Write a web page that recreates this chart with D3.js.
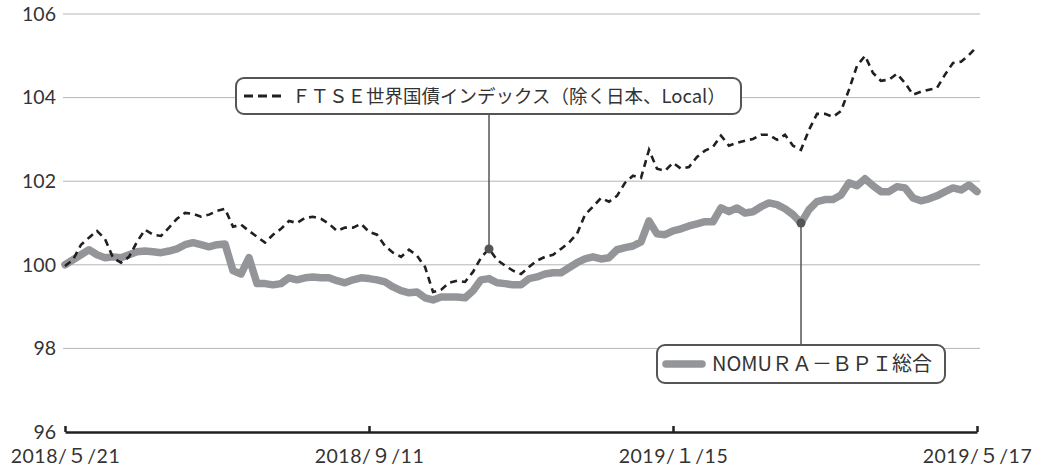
<!DOCTYPE html>
<html>
<head>
<meta charset="utf-8">
<script src="https://cdn.jsdelivr.net/npm/d3@7"></script>
<style>
  body { margin: 0; background: #fff; }
  svg { display: block; font-family: "Noto Sans CJK JP", "Noto Sans", sans-serif; }
</style>
</head>
<body>
<div id="chart"></div>
<script>
// chart size
const width = 1037;
const height = 470;
const margin = {left: 65, right: 60, top: 14, bottom: 38};

// tick labels on the x axis (evenly spaced over the samples)
const xTickLabels = ["2018/５/21", "2018/９/11", "2019/１/15", "2019/５/17"];
const yTicks = [96, 98, 100, 102, 104, 106];

// FTSE world government bond index (ex Japan, local) - dashed line
const ftse = [
  99.97, 100.12, 100.48, 100.65, 100.81, 100.62, 100.17, 100.05, 100.19, 100.55,
  100.84, 100.72, 100.69, 100.89, 101.10, 101.24, 101.22, 101.15, 101.20, 101.29,
  101.34, 100.91, 100.96, 100.81, 100.67, 100.53, 100.72, 100.86, 101.05, 101.00,
  101.12, 101.15, 101.10, 100.98, 100.81, 100.89, 100.89, 100.98, 100.79, 100.72,
  100.45, 100.29, 100.19, 100.36, 100.22, 99.95, 99.35, 99.40, 99.57, 99.62,
  99.59, 99.83, 100.17, 100.38, 100.12, 99.98, 99.86, 99.78, 99.95, 100.10,
  100.19, 100.24, 100.38, 100.53, 100.74, 101.20, 101.39, 101.60, 101.51, 101.65,
  101.96, 102.13, 102.08, 102.75, 102.30, 102.25, 102.44, 102.30, 102.34, 102.58,
  102.73, 102.82, 103.09, 102.85, 102.92, 102.97, 103.01, 103.11, 103.11, 102.99,
  103.11, 102.85, 102.75, 103.23, 103.61, 103.61, 103.54, 103.68, 104.19, 104.76,
  105.00, 104.59, 104.40, 104.43, 104.57, 104.35, 104.07, 104.14, 104.19, 104.23,
  104.55, 104.83, 104.86, 105.02, 105.22
];

// NOMURA-BPI total - thick grey line
const nomura = [
  100.00, 100.12, 100.24, 100.36, 100.24, 100.17, 100.19, 100.17, 100.24, 100.31,
  100.33, 100.31, 100.29, 100.33, 100.38, 100.48, 100.53, 100.48, 100.43, 100.48,
  100.50, 99.86, 99.78, 100.17, 99.55, 99.55, 99.52, 99.55, 99.69, 99.64,
  99.69, 99.71, 99.69, 99.69, 99.62, 99.57, 99.64, 99.69, 99.67, 99.64,
  99.59, 99.47, 99.38, 99.33, 99.35, 99.21, 99.16, 99.23, 99.23, 99.23,
  99.21, 99.38, 99.64, 99.67, 99.57, 99.55, 99.52, 99.52, 99.67, 99.71,
  99.78, 99.81, 99.81, 99.93, 100.05, 100.14, 100.19, 100.14, 100.17, 100.36,
  100.41, 100.45, 100.55, 101.05, 100.74, 100.72, 100.81, 100.86, 100.93, 100.98,
  101.03, 101.03, 101.36, 101.27, 101.36, 101.24, 101.27, 101.39, 101.48, 101.44,
  101.34, 101.20, 101.00, 101.32, 101.51, 101.56, 101.56, 101.67, 101.96, 101.89,
  102.06, 101.89, 101.75, 101.75, 101.87, 101.84, 101.60, 101.53, 101.58, 101.65,
  101.75, 101.84, 101.79, 101.91, 101.75
];

// where the callouts point
const ftseMarkIdx = 53;
const nomuraMarkIdx = 92;

const n = ftse.length;
const tickIdx = xTickLabels.map((d, i) => Math.round(i * (n - 1) / (xTickLabels.length - 1)));

const svg = d3.select("#chart")
  .append("svg")
  .attr("width", width)
  .attr("height", height);

const x = d3.scaleLinear()
  .domain([0, n - 1])
  .range([margin.left, width - margin.right]);

const y = d3.scaleLinear()
  .domain([96, 106])
  .range([height - margin.bottom, margin.top]);

// gridlines
svg.append("g")
  .selectAll("line")
  .data(yTicks.filter(d => d > 96))
  .join("line")
    .attr("x1", margin.left - 2)
    .attr("x2", width - margin.right + 3)
    .attr("y1", d => y(d))
    .attr("y2", d => y(d))
    .attr("stroke", "#b5b5b5")
    .attr("stroke-width", 1);

// y labels (no axis line)
const yAxis = svg.append("g")
  .attr("transform", `translate(${margin.left - 9},0)`)
  .call(d3.axisLeft(y).tickValues(yTicks).tickSize(0).tickPadding(0));
yAxis.select(".domain").remove();
yAxis.selectAll("text")
  .attr("font-size", "19.5px")
  .attr("fill", "#333")
  .attr("font-family", "Lato, sans-serif");

// x axis, ticks point up into the plot
const xAxis = svg.append("g")
  .attr("transform", `translate(0,${height - margin.bottom})`)
  .call(d3.axisBottom(x)
    .tickValues(tickIdx)
    .tickFormat((d, i) => xTickLabels[i])
    .tickSizeInner(-6)
    .tickSizeOuter(0)
    .tickPadding(17));
xAxis.select(".domain").attr("stroke", "#231f20").attr("stroke-width", 2.5);
xAxis.selectAll(".tick line").attr("stroke", "#231f20").attr("stroke-width", 2.5);
xAxis.selectAll("text")
  .attr("font-size", "19.5px")
  .attr("letter-spacing", "0.5px")
  .attr("fill", "#333")
  .attr("font-family", "Lato, 'Noto Sans CJK JP', sans-serif");

const line = d3.line()
  .x((d, i) => x(i))
  .y(d => y(d));

// NOMURA-BPI
svg.append("path")
  .datum(nomura)
  .attr("fill", "none")
  .attr("stroke", "#939598")
  .attr("stroke-width", 7.5)
  .attr("stroke-linejoin", "round")
  .attr("stroke-linecap", "round")
  .attr("d", line);

// FTSE
svg.append("path")
  .datum(ftse)
  .attr("fill", "none")
  .attr("stroke", "#231f20")
  .attr("stroke-width", 2.6)
  .attr("stroke-dasharray", "7,5")
  .attr("d", line);

// callout: FTSE
const box1 = {x: 236, y: 78, w: 505, h: 36};
svg.append("line")
  .attr("x1", x(ftseMarkIdx)).attr("x2", x(ftseMarkIdx))
  .attr("y1", box1.y + box1.h).attr("y2", y(ftse[ftseMarkIdx]))
  .attr("stroke", "#555").attr("stroke-width", 1.5);
svg.append("circle")
  .attr("cx", x(ftseMarkIdx)).attr("cy", y(ftse[ftseMarkIdx]))
  .attr("r", 4.5).attr("fill", "#555");
svg.append("rect")
  .attr("x", box1.x).attr("y", box1.y)
  .attr("width", box1.w).attr("height", box1.h)
  .attr("rx", 8)
  .attr("fill", "#fff").attr("stroke", "#555").attr("stroke-width", 2);
svg.append("line")
  .attr("x1", box1.x + 8).attr("x2", box1.x + 46)
  .attr("y1", box1.y + 18).attr("y2", box1.y + 18)
  .attr("stroke", "#231f20").attr("stroke-width", 3)
  .attr("stroke-dasharray", "9,5");
svg.append("text")
  .attr("x", box1.x + 56).attr("y", box1.y + 25)
  .attr("font-size", "18.5px").attr("fill", "#333")
  .text("ＦＴＳＥ世界国債インデックス（除く日本、Local）");

// callout: NOMURA
const box2 = {x: 657, y: 345, w: 288, h: 38};
svg.append("line")
  .attr("x1", x(nomuraMarkIdx)).attr("x2", x(nomuraMarkIdx))
  .attr("y1", y(nomura[nomuraMarkIdx])).attr("y2", box2.y)
  .attr("stroke", "#555").attr("stroke-width", 1.5);
svg.append("circle")
  .attr("cx", x(nomuraMarkIdx)).attr("cy", y(nomura[nomuraMarkIdx]))
  .attr("r", 4.5).attr("fill", "#555");
svg.append("rect")
  .attr("x", box2.x).attr("y", box2.y)
  .attr("width", box2.w).attr("height", box2.h)
  .attr("rx", 8)
  .attr("fill", "#fff").attr("stroke", "#555").attr("stroke-width", 2);
svg.append("line")
  .attr("x1", box2.x + 9).attr("x2", box2.x + 45)
  .attr("y1", box2.y + 19).attr("y2", box2.y + 19)
  .attr("stroke", "#939598").attr("stroke-width", 7.5)
  .attr("stroke-linecap", "round");
svg.append("text")
  .attr("x", box2.x + 55).attr("y", box2.y + 26)
  .attr("font-size", "20px").attr("fill", "#333")
  .text("NOMUＲＡ－ＢＰＩ総合");
</script>
</body>
</html>
